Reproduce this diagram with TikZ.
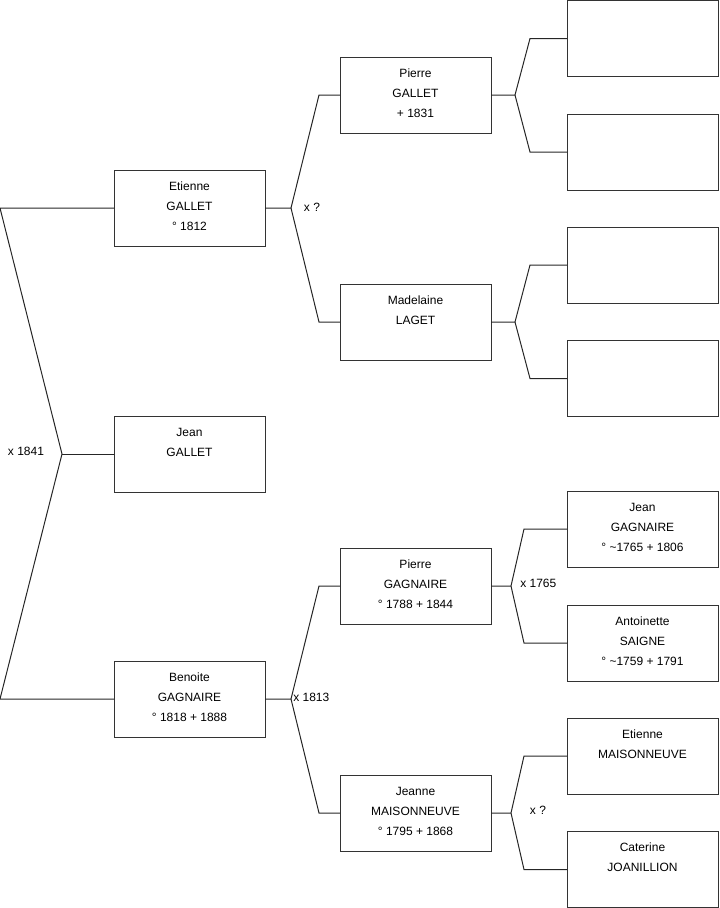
\documentclass[tikz,border=0pt]{standalone}
\usepackage{fontspec}
\setmainfont{Liberation Sans}
\usetikzlibrary{calc}
\begin{document}
\begin{tikzpicture}[x=0.75pt,y=-0.75pt,
 person/.style={draw=black!80, line width=0.75pt, minimum width=113.25pt, minimum height=57pt, inner sep=0pt, outer sep=0pt},
 pname/.style={anchor=north, align=center, font=\fontsize{9}{15}\selectfont, inner sep=0pt, yshift=-7pt},
 link/.style={draw=black!85, line width=0.75pt},
 union/.style={font=\fontsize{9}{11}\selectfont, inner sep=0pt}]
\useasboundingbox (0,0) rectangle (719,908);

% generation 1
\node[person, label={[pname]north:\rule{0pt}{8pt}Etienne\\GALLET\\° 1812}] (etienne) at (189.5,208) {};
\node[person, label={[pname]north:\rule{0pt}{8pt}Jean\\GALLET}] (jean) at (189.5,454) {};
\node[person, label={[pname]north:\rule{0pt}{8pt}Benoite\\GAGNAIRE\\° 1818 + 1888}] (benoite) at (189.5,699) {};

% generation 2
\node[person, label={[pname]north:\rule{0pt}{8pt}Pierre\\GALLET\\ + 1831}] (pierre) at (415.5,95) {};
\node[person, label={[pname]north:\rule{0pt}{8pt}Madelaine\\LAGET}] (madelaine) at (415.5,322) {};
\node[person, label={[pname]north:\rule{0pt}{8pt}Pierre\\GAGNAIRE\\° 1788 + 1844}] (pierreg) at (415.5,586) {};
\node[person, label={[pname]north:\rule{0pt}{8pt}Jeanne\\MAISONNEUVE\\° 1795 + 1868}] (jeanne) at (415.5,813) {};

% generation 3
\node[person] (r1) at (642.5,38.5) {};
\node[person] (r2) at (642.5,152) {};
\node[person] (r3) at (642.5,265) {};
\node[person] (r4) at (642.5,378.5) {};
\node[person, label={[pname]north:\rule{0pt}{8pt}Jean\\GAGNAIRE\\° \textasciitilde 1765 + 1806}] (jeang) at (642.5,529) {};
\node[person, label={[pname]north:\rule{0pt}{8pt}Antoinette\\SAIGNE\\° \textasciitilde 1759 + 1791}] (antoinette) at (642.5,643) {};
\node[person, label={[pname]north:\rule{0pt}{8pt}Etienne\\MAISONNEUVE}] (etiennem) at (642.5,756) {};
\node[person, label={[pname]north:\rule{0pt}{8pt}Caterine\\JOANILLION}] (caterine) at (642.5,869.5) {};

% root fork
\coordinate (L1) at (0,208);
\coordinate (L2) at (0,699);
\coordinate (A0) at (62,454);
\draw[link] (etienne.west) -- (L1) -- (A0) -- (L2) -- (benoite.west);
\draw[link] (A0) -- (jean.west);
\node[union] (u0) at (26,451) {x 1841};

% Etienne fork
\coordinate (A1) at (291,208);
\draw[link] (etienne.east) -- (A1) -- ($(pierre.west)+(-21,0)$) -- (pierre.west);
\draw[link] (A1) -- ($(madelaine.west)+(-21,0)$) -- (madelaine.west);
\node[union] (u1) at (312,207) {x ?};

% Benoite fork
\coordinate (A2) at (291,699);
\draw[link] (benoite.east) -- (A2) -- ($(pierreg.west)+(-21,0)$) -- (pierreg.west);
\draw[link] (A2) -- ($(jeanne.west)+(-21,0)$) -- (jeanne.west);
\node[union, anchor=west] (u2) at (293,697) {x 1813};

% Pierre GALLET fork
\coordinate (A3) at (515,95);
\draw[link] (pierre.east) -- (A3) -- ($(r1.west)+(-37,0)$) -- (r1.west);
\draw[link] (A3) -- ($(r2.west)+(-37,0)$) -- (r2.west);

% Madelaine fork
\coordinate (A4) at (515,322);
\draw[link] (madelaine.east) -- (A4) -- ($(r3.west)+(-37,0)$) -- (r3.west);
\draw[link] (A4) -- ($(r4.west)+(-37,0)$) -- (r4.west);

% Pierre GAGNAIRE fork
\coordinate (A5) at (511,586);
\draw[link] (pierreg.east) -- (A5) -- ($(jeang.west)+(-43,0)$) -- (jeang.west);
\draw[link] (A5) -- ($(antoinette.west)+(-43,0)$) -- (antoinette.west);
\node[union, anchor=west] (u3) at (520,583) {x 1765};

% Jeanne fork
\coordinate (A6) at (511,813);
\draw[link] (jeanne.east) -- (A6) -- ($(etiennem.west)+(-43,0)$) -- (etiennem.west);
\draw[link] (A6) -- ($(caterine.west)+(-43,0)$) -- (caterine.west);
\node[union] (u4) at (538,810) {x ?};
\end{tikzpicture}
\end{document}
